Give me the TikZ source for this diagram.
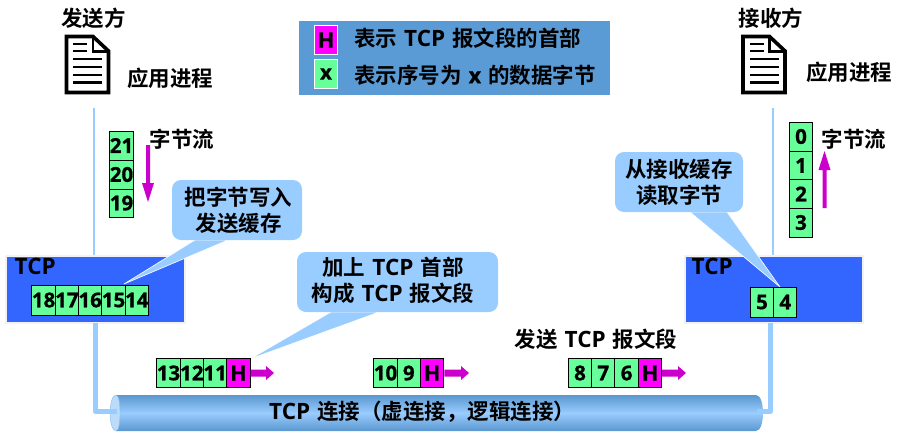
\documentclass[tikz,border=0pt]{standalone}
\usepackage{fontspec}
\setmainfont{Noto Sans CJK SC Bold}
\newfontfamily\latinb{Open Sans}[BoldFont={Open Sans Bold}]
\newfontfamily\digitf{Open Sans}[UprightFont={* Bold},FakeBold=0.8]
\usetikzlibrary{calc}
\definecolor{cellg}{HTML}{66FF99}
\definecolor{hmag}{HTML}{FF00FF}
\definecolor{arrowm}{HTML}{CC00CC}
\definecolor{sky}{HTML}{99CCFF}
\definecolor{tcpb}{HTML}{3366FF}
\definecolor{legendb}{HTML}{5B9BD5}
\definecolor{pipeedge}{HTML}{5B98CF}
\definecolor{pipelight}{HTML}{BBDBF8}
\newcommand{\dg}[1]{{\digitf\fontsize{20.5}{20.5}\selectfont #1}}
\newcommand{\hh}{{\digitf\fontsize{21.5}{21.5}\selectfont H}}
\newcommand{\tcpw}{{\latinb\bfseries\fontsize{22.5}{26}\selectfont TCP}}
\newcommand{\gp}{\hspace{7pt}}
\tikzset{
  x=1pt,y=-1pt,
  lbl/.style={font=\fontsize{21.5}{26}\selectfont,text=black,inner sep=0pt,align=center},
  cellbase/.style={draw=black,line width=1pt,inner sep=0pt,anchor=center},
  dcell/.style={cellbase,fill=cellg,minimum width=23.3pt,minimum height=#1},
  dcell/.default=29pt,
  hcell/.style={cellbase,fill=hmag,minimum width=23.3pt,minimum height=29pt},
  tcpbox/.style={draw=black!5,line width=2pt,fill=tcpb,inner sep=0pt},
  thin line/.style={draw=sky,line width=2.2pt},
  pipe/.style={draw=sky,line width=5pt,line join=round},
  callout/.style={fill=sky,draw=white,line width=0.6pt,line join=round},
}
\newcommand{\blockarrow}[5]{%
  \fill[arrowm] let \p1=(#1),\p2=(#2),\n1={atan2(\y2-\y1,\x2-\x1)},\n2={veclen(\x2-\x1,\y2-\y1)/1pt} in
   [shift={(\p1)},rotate=\n1,y=1pt]
   (0,#3) -- ({\n2-#5},#3) -- ({\n2-#5},#4) -- (\n2,0) -- ({\n2-#5},-#4) -- ({\n2-#5},-#3) -- (0,-#3) -- cycle;}
\newcommand{\docicon}[2]{%
  \begin{scope}[shift={(#1,#2)}]
    \draw[black,line width=3.6pt,miter limit=4,fill=white] (1.5,1.5) -- (28,1.5) -- (43.5,16) -- (43.5,57.5) -- (1.5,57.5) -- cycle;
    \draw[black,line width=2.8pt] (28,1.5) -- (28,16.5) -- (43.5,16.5);
    \draw[black,line width=2.2pt] (8,9) -- (22,9) (8,16) -- (22,16) (8,24) -- (37,24) (8,32) -- (37,32) (8,40) -- (37,40) (8,47.5) -- (37,47.5);
  \end{scope}}
\begin{document}
\begin{tikzpicture}
\useasboundingbox (0,0) rectangle (911,432);
% legend
\fill[legendb] (299,21) rectangle (610,95);
\node[draw=white,line width=0.8pt,fill=hmag,minimum width=23pt,minimum height=29pt,inner sep=0pt] (lh) at (326,40) {\hh};
\node[draw=white,line width=0.8pt,fill=cellg,minimum width=23pt,minimum height=29pt,inner sep=0pt] (lx) at (326,74) {\dg{x}};
\node[lbl,anchor=west] (lt1) at (354,38) {表示\gp\tcpw\gp 报文段的首部};
\node[lbl,anchor=west] (lt2) at (354,75) {表示序号为\gp{\digitf x}\gp 的数据字节};
% headings
\node[lbl] (sender) at (93.5,18.5) {发送方};
\node[lbl] (receiver) at (771,18.5) {接收方};
\docicon{65}{35}
\docicon{741.5}{35}
\node[lbl] (appl) at (170,78) {应用进程};
\node[lbl] (appr) at (849,72) {应用进程};
% thin vertical lines
\coordinate (ltop) at (94,108);
\coordinate (rtop) at (773,108);
\node[tcpbox,minimum width=179pt,minimum height=67pt] (ltcp) at (95,289) {};
\node[tcpbox,minimum width=178pt,minimum height=67pt] (rtcp) at (773.5,289) {};
\draw[thin line] (ltop) -- (ltop |- ltcp.north);
\draw[thin line] (rtop) -- (rtop |- rtcp.north);
\node[lbl,anchor=west] (ltl) at (14.5,266) {\tcpw};
\node[lbl,anchor=west] (rtl) at (691.5,266) {\tcpw};
% cylinder
\coordinate (cylL) at (117,411.5);
\coordinate (cylR) at (757,411.5);
\coordinate (pl) at (95.5,323);
\coordinate (pr) at (770.5,323);
\begin{scope}
  \clip (116,395) -- (756,395) .. controls (761,395) and (763,405) .. (763,413) .. controls (763,421) and (761,431) .. (756,431) -- (116,431) -- cycle;
  \shade[top color=pipeedge,bottom color=sky] (110,395) rectangle (770,413);
  \shade[top color=sky,bottom color=pipeedge] (110,413) rectangle (770,431);
\end{scope}
\fill[pipelight,draw=sky!70!pipeedge,line width=0.4pt] (116,395) .. controls (112,395) and (110,405) .. (110,413) .. controls (110,421) and (112,431) .. (116,431) .. controls (119,431) and (120,421) .. (120,413) .. controls (120,405) and (119,395) .. (116,395) -- cycle;
\draw[pipe] (pl) |- (cylL);
\draw[pipe] (pr) |- (cylR);
\node[lbl,anchor=west] (conn) at (269,412) {\tcpw\gp 连接（虚连接，逻辑连接）};
% sender stream
\node[dcell,minimum width=24pt] (s21) at (121.5,145.5) {\dg{21}};
\node[dcell,minimum width=24pt] (s20) at (121.5,174.5) {\dg{20}};
\node[dcell=28pt,minimum width=24pt] (s19) at (121.5,203) {\dg{19}};
\coordinate (sa1) at (148,145); \coordinate (sa2) at (148,202);
\blockarrow{sa1}{sa2}{2}{6}{19}
\node[lbl] (sfl) at (182,139) {字节流};
% sender buffer
\node[dcell=30pt] (b18) at (43.6,300) {\dg{18}};
\node[dcell=30pt] (b17) at (66.9,300) {\dg{17}};
\node[dcell=30pt] (b16) at (90.2,300) {\dg{16}};
\node[dcell=30pt] (b15) at (113.5,300) {\dg{15}};
\node[dcell=30pt] (b14) at (136.8,300) {\dg{14}};
% receiver buffer
\node[dcell=30pt] (r5) at (762,302) {\dg{5}};
\node[dcell=30pt] (r4) at (785.3,302) {\dg{4}};
% receiver stream
\node[dcell,minimum width=23pt] (q0) at (801,136.5) {\dg{0}};
\node[dcell,minimum width=23pt] (q1) at (801,165.5) {\dg{1}};
\node[dcell,minimum width=23pt] (q2) at (801,194) {\dg{2}};
\node[dcell,minimum width=23pt] (q3) at (801,222.5) {\dg{3}};
\coordinate (ra1) at (824.5,208); \coordinate (ra2) at (824.5,151);
\blockarrow{ra1}{ra2}{2}{6}{19}
\node[lbl] (rfl) at (854,139) {字节流};
% callouts
\coordinate (tip1) at (124,284);
\coordinate (tip2) at (250,359);
\coordinate (tip3) at (780,287);
\path[callout] (tip1) -- (195,240) -- (228,240) -- cycle;
\path[callout] (tip2) -- (331,312) -- (379,312) -- cycle;
\path[callout] (tip3) -- (690,212) -- (727,212) -- cycle;
\fill[sky,rounded corners=9pt] (172,180) rectangle (302,240);
\fill[sky,rounded corners=9pt] (297,252) rectangle (498,312);
\fill[sky,rounded corners=9pt] (615,152) rectangle (743,212);
\node[lbl] (c1) at (238.5,210) {把字节写入\\发送缓存};
\node[lbl] (c2) at (393,280) {加上\gp\tcpw\gp 首部\\构成\gp\tcpw\gp 报文段};
\node[lbl] (c3) at (679,182) {从接收缓存\\读取字节};
% segment 1
\node[dcell] (a13) at (168.5,373) {\dg{13}};
\node[dcell] (a12) at (191.8,373) {\dg{12}};
\node[dcell] (a11) at (215.1,373) {\dg{11}};
\node[hcell] (ah) at (238.4,373) {\hh};
\coordinate (ae) at (274,373);
\blockarrow{ah.east}{ae}{3.5}{7}{8}
% segment 2
\node[dcell] (d10) at (385.5,373) {\dg{10}};
\node[dcell] (d9) at (408.8,373) {\dg{9}};
\node[hcell] (dh) at (432.1,373) {\hh};
\coordinate (de) at (469,373);
\blockarrow{dh.east}{de}{3.5}{7}{8}
% segment 3
\node[lbl] (seg) at (596,339) {发送\gp\tcpw\gp 报文段};
\node[dcell] (g8) at (580,373) {\dg{8}};
\node[dcell] (g7) at (603.3,373) {\dg{7}};
\node[dcell] (g6) at (626.6,373) {\dg{6}};
\node[hcell] (gh) at (650,373) {\hh};
\coordinate (ge) at (686,373);
\blockarrow{gh.east}{ge}{3.5}{7}{8}
\end{tikzpicture}
\end{document}
